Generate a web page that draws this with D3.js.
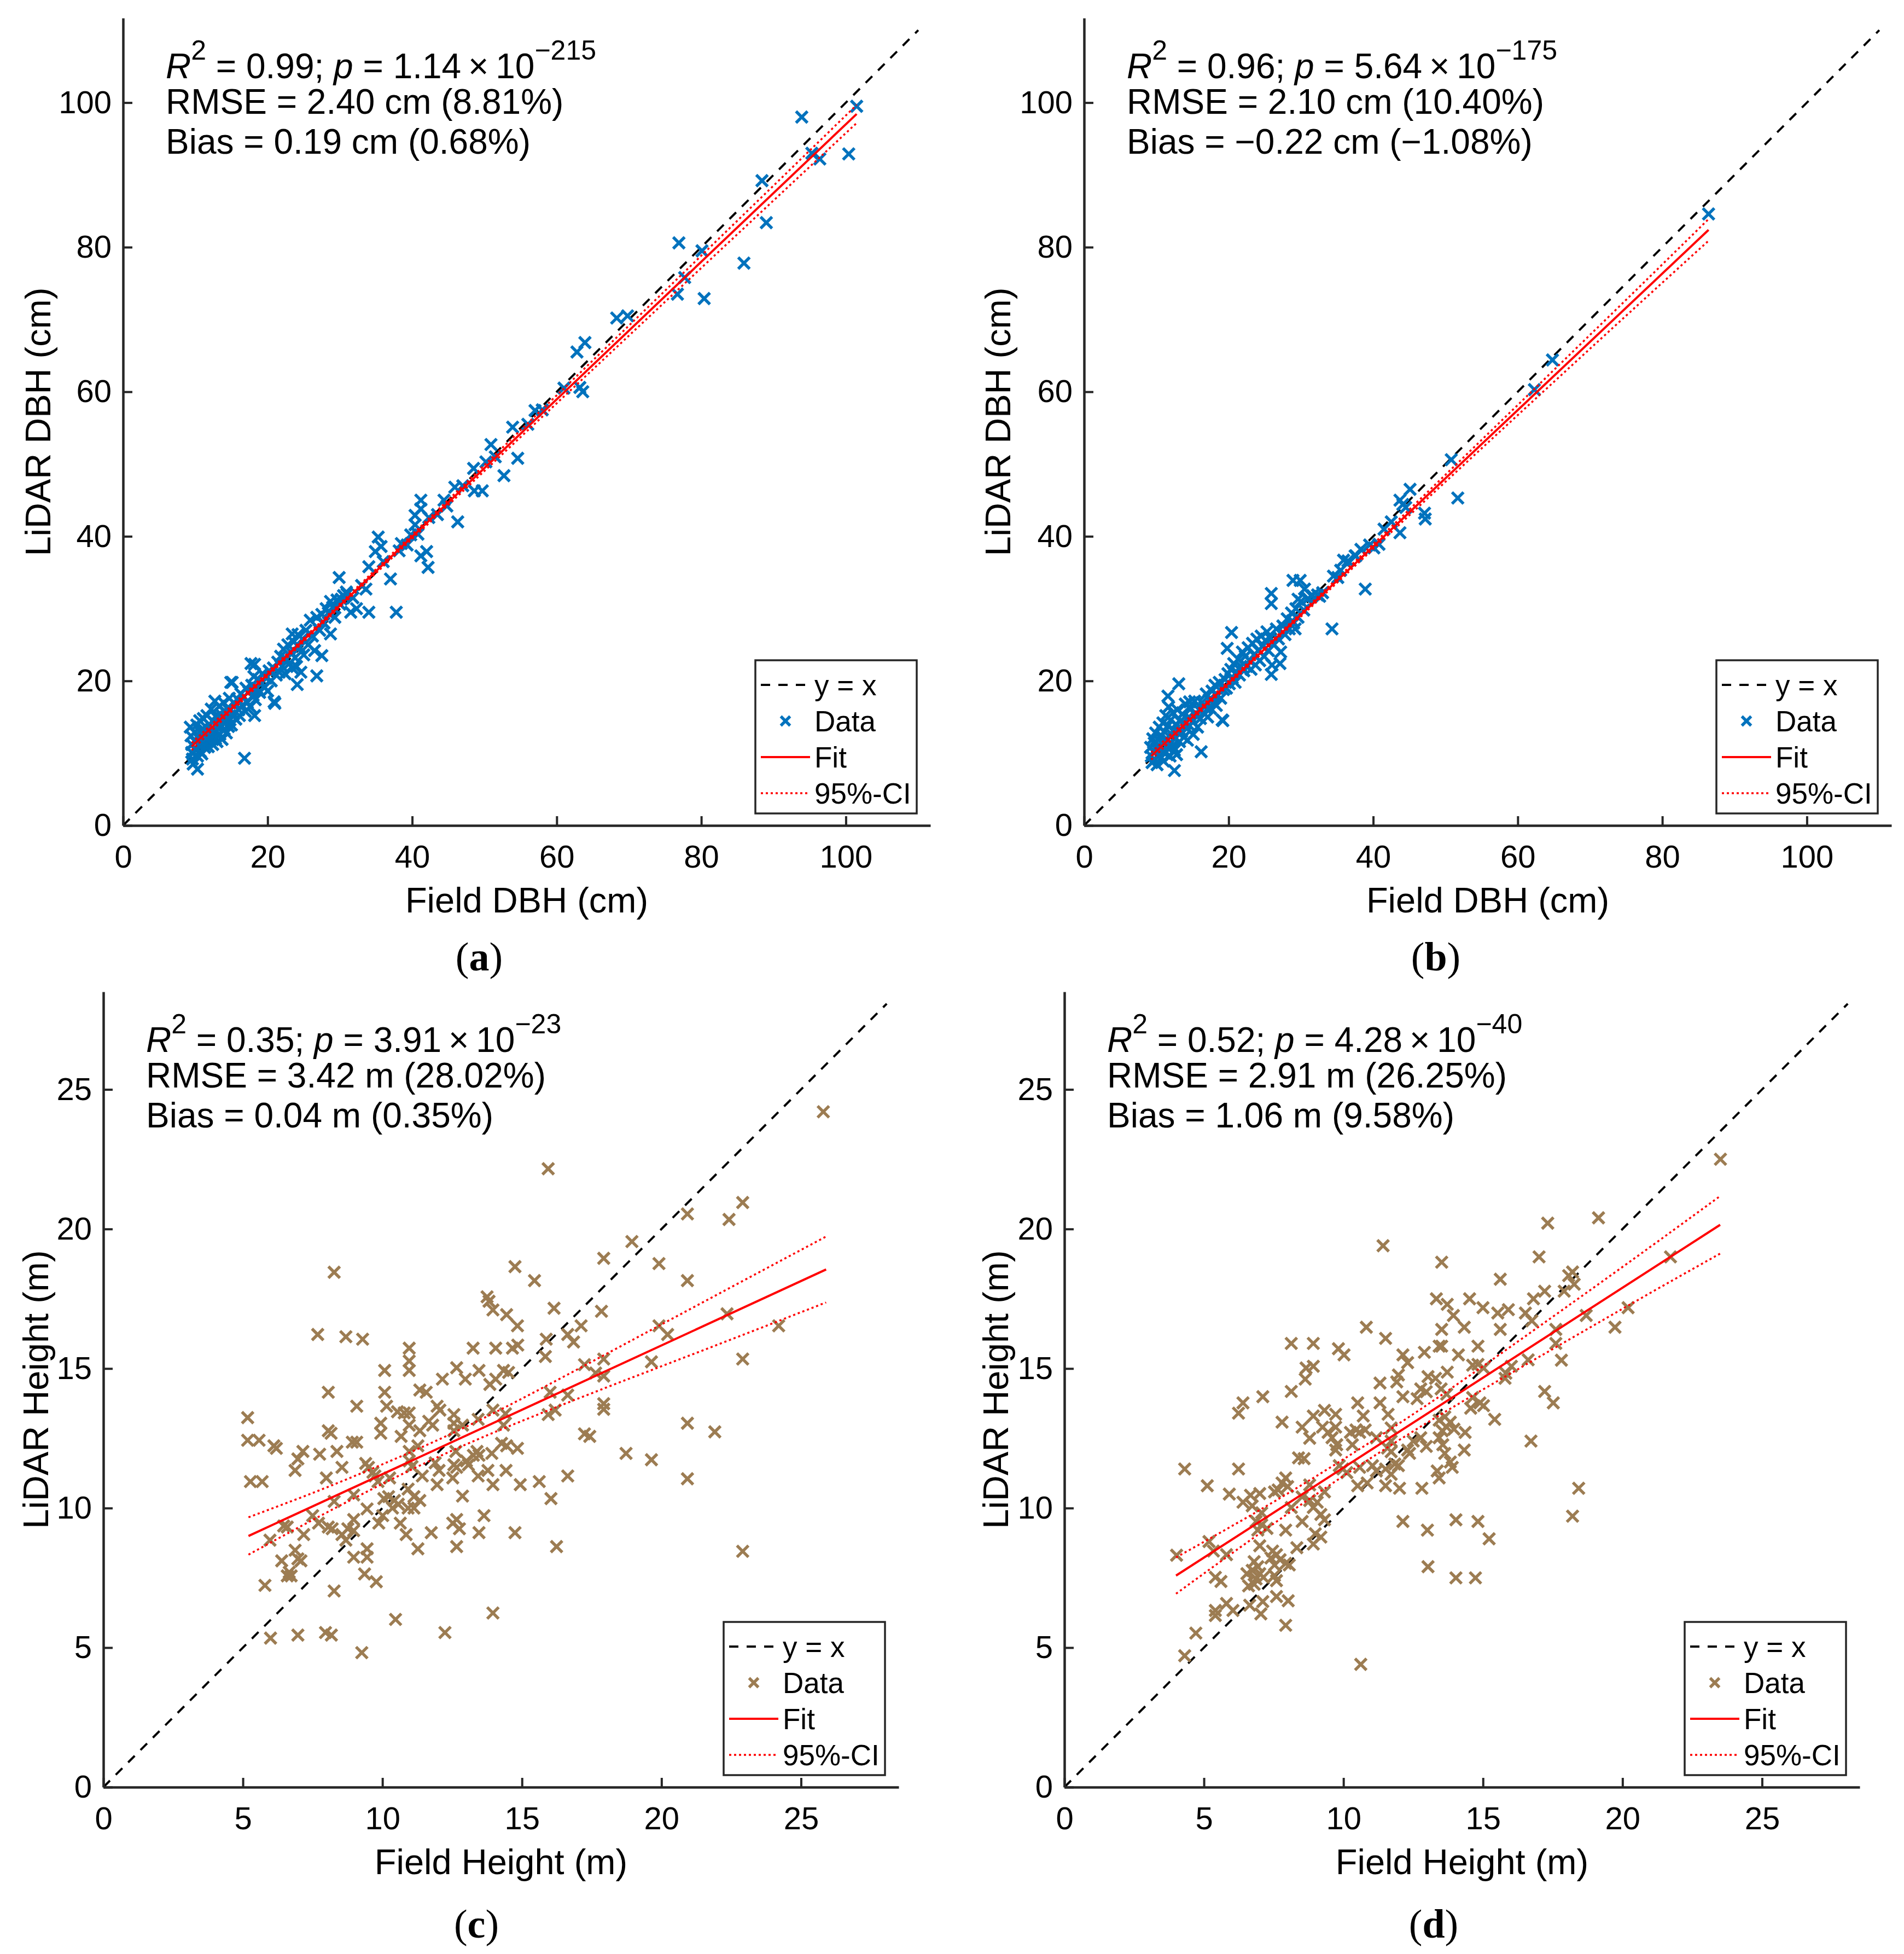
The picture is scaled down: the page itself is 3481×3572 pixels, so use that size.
<!DOCTYPE html>
<html>
<head>
<meta charset="utf-8">
<script src="https://cdn.jsdelivr.net/npm/d3@7"></script>
<style>
  body { margin: 0; background: #fff; }
  text { font-family: "Liberation Sans", Arial, sans-serif; fill: #000; white-space: pre; }
</style>
</head>
<body>
<div class="canvas"></div>
<script>
// tick labels
const dbhTicks = [0, 20, 40, 60, 80, 100];
const heightTicks = [0, 5, 10, 15, 20, 25];

// (a) DBH, plot 1 — [field, lidar]
const dbhA = [
  [101.5,99.5],[93.9,98.0],[95.3,93.0],[96.4,92.2],[100.4,92.9],[88.4,89.2],[89.0,83.4],[76.9,80.6],[80.1,79.5],[85.9,77.8],
  [77.7,75.8],[76.7,73.5],[80.4,72.9],[68.3,70.2],[69.8,70.5],[62.8,65.5],[63.9,66.8],[63.2,60.6],[63.6,60.0],[57.0,57.4],
  [53.9,55.1],[50.9,52.7],[54.6,50.8],[52.7,48.4],[48.5,49.4],[49.7,46.3],[48.6,46.3],[45.9,46.8],[44.4,45.0],[41.2,45.0],
  [41.2,43.8],[42.3,42.6],[46.3,42.0],[40.4,42.9],[40.4,41.6],[40.8,40.3],[39.3,38.8],[38.2,38.0],[42.0,37.9],[42.2,35.7],
  [41.2,37.3],[35.3,39.9],[34.9,37.9],[35.7,38.6],[34.0,35.8],[37.0,34.1],[29.9,34.3],[33.6,32.7],[34.0,29.5],[31.5,29.5],
  [32.3,30.0],[37.8,29.5],[30.9,32.3],[30.2,31.3],[28.7,26.5],[27.5,23.5],[26.8,20.7],[23.4,26.5],[24.3,24.8],[24.1,19.5],
  [20.9,17.1],[18.2,15.2],[17.7,22.4],[14.9,19.8],[16.8,9.3],[10.3,7.8],
  [36.0,36.5],[38.5,39.0],[43.5,43.0],[47.0,47.0],[51.5,51.0],[56.0,55.5],[58.0,57.5],[61.0,60.5],[33.0,33.2],[31.8,31.5],
  [39.8,40.2],[44.8,44.2],[50.2,50.3],
  [9.3,13.6],[9.4,12.4],[9.5,11.2],[9.5,10.1],[9.6,9.2],[9.7,8.5],[9.9,12.9],[10.0,11.6],[10.1,10.4],[10.2,13.9],
  [10.3,9.6],[10.4,12.1],[10.5,11.0],[10.6,14.5],[10.7,10.2],[10.8,12.8],[10.9,11.5],[11.0,13.4],[10.9,9.9],
  [11.1,14.8],[11.2,12.2],[11.3,10.8],[11.4,13.0],[11.5,11.6],[11.6,15.2],[11.7,12.6],[11.8,10.9],[11.9,14.0],[12.0,11.8],
  [12.1,13.2],[12.2,16.1],[12.3,12.4],[12.4,11.2],[12.5,14.4],[12.6,13.0],[12.7,17.2],[12.8,12.0],[12.9,15.0],[13.0,13.6],[13.0,11.6],
  [13.2,14.2],[13.3,16.5],[13.4,12.6],[13.5,15.4],[13.6,13.8],[13.7,11.9],[13.8,14.9],[13.9,17.0],[14.0,13.3],[14.1,15.8],
  [14.2,14.3],[14.3,12.8],[14.4,16.2],[14.5,15.0],[14.6,13.7],[14.7,17.6],[14.8,14.6],[14.9,16.0],[15.0,13.9],[15.1,19.8],
  [15.3,15.4],[15.5,16.8],[15.6,14.7],[15.8,17.5],[16.0,16.0],[16.1,15.2],[16.3,18.2],[16.5,16.6],[16.7,17.8],[16.9,15.8],
  [17.0,19.0],[17.2,17.0],[17.4,18.5],[17.6,16.4],[17.8,19.4],[18.0,18.0],[18.1,20.6],[18.2,22.3],[18.3,17.4],[18.5,19.0],
  [18.7,20.2],[18.9,18.4],[19.1,19.6],[19.3,21.0],[19.5,19.2],[19.8,20.4],[20.0,18.6],[20.2,21.4],[20.5,20.0],[20.8,21.8],
  [21.0,16.9],[21.2,20.8],[21.4,22.6],[21.6,21.2],[21.8,23.4],[22.0,22.0],
  [22.2,24.4],[22.4,21.0],[22.6,23.0],[22.8,25.0],[23.0,22.4],[23.2,24.0],[23.4,21.8],[23.6,25.4],[23.8,23.2],[24.0,22.0],
  [24.2,26.4],[24.4,24.6],[24.6,21.2],[24.8,25.8],[25.0,23.6],[25.3,27.0],[25.6,25.0],[25.9,28.4],[26.2,26.2],[26.5,24.2],[26.8,28.8],
  [27.2,27.0],[27.5,29.2],[27.8,28.0],[28.1,30.0],[28.4,29.4],[28.7,31.0],[29.0,30.2],[29.3,28.8],[29.6,31.2],[30.0,30.6],
  [30.5,31.8],[31.0,32.0]
];

// (b) DBH, plot 2
const dbhB = [
  [86.4,84.6],[64.8,64.4],[62.3,60.3],[50.8,50.6],[51.7,45.3],[45.1,46.5],[43.7,45.0],[44.1,44.4],[47.1,43.2],[47.2,42.4],
  [43.7,40.5],[40.8,38.9],[40.1,38.4],[38.9,32.7],[37.6,37.3],[35.9,36.7],[35.1,34.3],[34.3,27.2],[32.6,31.7],[28.9,33.9],
  [29.9,33.9],[30.5,32.7],[29.6,31.3],[30.9,31.3],[25.9,32.1],[25.9,30.7],[28.8,28.3],[29.2,27.2],[20.4,26.7],[19.8,24.5],
  [25.9,20.9],[27.1,22.4],[13.1,19.6],[11.6,17.9],[14.6,17.1],[19.2,14.5],[16.2,10.2],[12.5,7.6],
  [9.2,10.8],[9.3,9.6],[9.4,8.7],[9.5,12.0],[9.6,10.2],[9.7,11.4],[9.8,9.1],[9.9,12.8],[10.0,10.6],[10.1,8.4],
  [10.2,11.9],[10.3,9.8],[10.4,13.6],[10.5,11.0],[10.6,9.3],[10.7,12.4],[10.8,10.3],[10.9,14.2],[11.0,11.6],[11.0,8.9],
  [11.1,13.0],[11.2,10.0],[11.3,15.2],[11.4,12.0],[11.5,10.8],[11.6,13.8],[11.7,16.4],[11.8,11.4],[11.9,9.6],[12.0,14.6],
  [12.1,12.6],[12.2,11.0],[12.3,15.6],[12.4,13.2],[12.5,10.4],[12.6,12.0],[12.7,14.0],[12.8,9.8],[12.9,16.0],[13.0,12.8],
  [13.2,11.6],[13.3,14.4],[13.5,13.0],[13.6,15.4],[13.8,12.2],[13.9,14.0],[14.0,16.8],[14.2,13.4],[14.3,11.8],[14.5,15.0],
  [14.6,13.8],[14.8,16.2],[15.0,14.4],[15.1,12.6],[15.3,17.2],[15.5,15.2],[15.7,13.6],[15.9,16.0],
  [16.1,14.8],[16.3,17.0],[16.5,15.6],[16.7,16.4],[16.9,18.2],[17.1,15.0],[17.3,17.4],[17.5,16.2],[17.7,18.6],[17.9,17.0],
  [18.1,19.4],[18.3,16.6],[18.5,18.0],[18.7,19.8],[18.9,17.6],[19.1,14.6],[19.3,18.8],[19.5,20.2],[19.7,19.0],[19.9,21.0],
  [20.1,19.6],[20.3,21.6],[20.5,20.4],[20.7,22.4],[20.9,19.8],[21.1,21.2],[21.3,23.0],[21.5,20.8],[21.7,22.0],[21.9,24.0],
  [22.1,21.4],[22.3,23.4],[22.5,22.0],[22.7,24.6],[22.9,22.8],[23.1,21.6],[23.3,25.2],[23.5,23.6],[23.7,22.2],[23.9,25.8],
  [24.1,24.2],[24.3,22.8],[24.5,26.2],[24.7,24.8],
  [24.9,23.4],[25.1,25.6],[25.3,26.8],[25.5,24.2],[25.7,26.0],[26.0,22.2],[26.3,25.0],[26.6,27.2],[26.9,25.8],[27.2,24.0],
  [27.5,27.6],[27.8,26.4],[28.1,28.6],[28.4,27.2],[28.7,29.4],[29.0,28.0],[29.3,30.0],[29.6,28.8],[30.0,31.0],[30.4,29.8],
  [31.0,31.4],[31.6,31.8],[32.3,31.9],[33.0,32.2],[34.5,34.5],[35.5,35.3],[36.5,36.6],[37.5,37.3],[38.3,38.2],[39.5,38.8],
  [41.5,41.0],[42.5,42.0],[44.5,44.0]
];

// (c) tree height, plot 1
const heightC = [
  [25.8,24.2],[15.94,22.16],[22.91,20.95],[22.42,20.34],[20.93,20.54],[18.94,19.55],[17.93,18.95],[19.91,18.76],[14.75,18.65],[15.45,18.15],
  [20.93,18.15],[8.27,18.45],[13.75,17.57],[13.82,17.41],[13.96,17.1],[14.45,16.93],[14.84,16.53],[16.15,17.16],[17.85,17.05],[17.12,16.53],
  [7.68,16.22],[8.69,16.14],[9.29,16.05],[10.96,15.73],[13.25,15.73],[14.06,15.73],[14.66,15.73],[14.85,15.84],[15.87,16.05],[16.64,16.22],
  [16.85,15.95],[15.84,15.43],[19.91,16.53],[20.22,16.22],[22.35,16.96],[24.2,16.53],[22.91,15.34],[19.64,15.24],[17.93,15.34],[17.24,15.14],
  [17.64,14.84],[17.93,14.73],[10.96,15.27],[10.96,14.93],[10.08,14.93],[12.66,15.03],[13.46,14.93],[12.97,14.62],[12.15,14.62],[14.06,14.62],
  [14.34,14.93],[14.52,14.86],[13.85,14.43],[8.06,14.15],[10.08,14.15],[11.34,14.23],[11.57,14.15],[16.01,14.15],[16.64,14.05],[9.08,13.65],
  [10.15,13.65],[11.96,13.65],[12.06,13.51],[10.54,13.45],[10.78,13.41],[10.96,13.41],[13.96,13.51],[17.93,13.74],[17.93,13.54],[16.19,13.51],
  [15.94,13.35],[5.17,13.24],[9.94,13.04],[9.94,12.68],[10.96,12.97],[11.66,13.11],[11.8,12.97],[12.56,13.35],[12.56,13.04],[12.56,12.77],
  [11.34,12.77],[8.06,12.77],[8.16,12.68],[12.87,12.97],[13.43,13.18],[14.41,13.38],[14.34,12.97],[10.67,12.57],[5.17,12.43],[5.58,12.43],
  [6.11,12.23],[6.2,12.14],[8.92,12.36],[9.08,12.36],[20.93,13.04],[21.91,12.73],[17.24,12.66],[17.43,12.57],[14.27,12.32],[14.45,12.23],
  [14.84,12.14],[13.39,12.03],[13.26,11.89],[13.46,11.89],[13.92,11.96],[12.63,12.03],[10.96,12.03],[11.27,12.23],[7.15,12.03],[7.75,11.93],
  [8.37,12.03],[6.97,11.76],[6.87,11.35],[8.55,11.46],[18.73,11.96],[19.64,11.73],[9.4,11.6],[9.5,11.46],[9.66,11.28],[9.73,11.15],
  [9.84,10.95],[10.96,11.69],[11.06,11.49],[11.89,11.62],[12.03,11.35],[12.56,11.55],[12.66,11.46],[13.01,11.69],[13.08,11.55],[13.78,11.35],
  [14.43,11.35],[13.43,11.15],[12.52,11.08],[11.43,11.15],[10.26,11.08],[7.99,11.08],[5.27,10.95],[5.69,10.95],[11.96,10.84],[13.96,10.84],
  [14.94,10.84],[15.62,10.95],[16.64,11.15],[20.93,11.05],[8.97,10.47],[8.27,10.24],[10.05,10.34],[10.22,10.41],[10.43,10.27],[10.57,10.14],
  [10.36,10.0],[10.92,10.68],[11.13,10.41],[11.34,10.27],[10.92,10.0],[11.13,10.0],[12.87,10.43],[9.45,9.97],[10.01,9.73],[9.87,9.46],
  [16.04,10.34],[7.5,9.73],[7.71,9.46],[6.46,9.36],[6.59,9.32],[8.06,9.32],[8.2,9.26],[8.97,9.59],[8.76,9.26],[8.97,9.19],
  [8.55,9.05],[8.69,8.85],[12.66,9.59],[12.52,9.46],[12.76,9.26],[13.64,9.73],[10.64,9.46],[10.85,9.05],[11.75,9.12],[13.46,9.12],
  [14.75,9.12],[7.18,9.05],[5.97,8.85],[12.66,8.62],[16.24,8.62],[11.27,8.54],[9.45,8.54],[9.45,8.24],[6.87,8.49],[6.97,8.18],
  [7.08,8.11],[6.39,8.11],[8.97,8.24],[22.91,8.45],[6.66,7.7],[6.59,7.57],[6.73,7.57],[9.36,7.64],[9.78,7.36],[5.79,7.23],
  [8.27,7.03],[10.47,6.01],[13.96,6.24],[12.24,5.54],[5.99,5.34],[6.97,5.45],[7.96,5.54],[8.17,5.45],[9.26,4.82]
];

// (d) tree height, plot 2
const heightD = [
  [23.51,22.5],[17.32,20.21],[19.14,20.4],[11.42,19.4],[13.52,18.81],[17.01,19.0],[21.72,19.0],[18.21,18.46],[18.07,18.33],[18.27,18.02],
  [17.91,17.77],[15.62,18.2],[17.21,17.77],[16.81,17.5],[13.33,17.5],[13.72,17.3],[14.52,17.5],[15.0,17.18],[15.53,16.99],[15.91,17.11],
  [16.52,16.99],[16.75,16.71],[13.94,16.9],[18.7,16.9],[20.2,17.18],[19.73,16.48],[10.82,16.48],[14.33,16.48],[13.52,16.4],[15.62,16.4],
  [17.61,16.4],[11.51,16.08],[8.13,15.9],[8.92,15.9],[9.82,15.71],[10.02,15.49],[13.43,15.8],[13.52,15.8],[14.82,15.8],[12.9,15.58],
  [12.13,15.49],[12.3,15.21],[14.12,15.49],[17.61,15.9],[17.81,15.3],[16.62,15.31],[14.63,15.12],[14.82,15.15],[15.02,15.02],[16.02,15.08],
  [8.66,15.02],[8.92,15.08],[8.63,14.62],[11.97,14.77],[11.91,14.52],[11.31,14.48],[13.03,14.71],[13.3,14.65],[13.72,14.87],[15.79,14.65],
  [15.82,14.83],[12.77,14.27],[12.97,14.17],[12.64,13.92],[8.13,14.18],[7.11,13.99],[6.4,13.77],[6.24,13.4],[12.13,13.99],[10.51,13.77],
  [11.31,13.77],[13.5,14.27],[13.7,14.08],[17.21,14.18],[17.52,13.77],[14.63,13.96],[14.89,13.77],[14.56,13.58],[15.02,13.67],[9.32,13.5],
  [9.72,13.36],[8.92,13.3],[10.71,13.3],[11.6,13.36],[7.8,13.08],[8.52,12.9],[9.25,12.9],[9.72,12.9],[9.45,12.71],[10.25,12.71],
  [10.45,12.8],[10.58,12.71],[10.78,12.8],[11.71,12.87],[13.43,13.15],[13.63,13.27],[13.83,13.08],[13.7,12.9],[13.54,12.77],[13.96,12.83],
  [14.36,12.71],[15.42,13.18],[8.79,12.5],[9.59,12.52],[9.76,12.27],[9.72,12.08],[10.32,12.27],[11.18,12.52],[11.71,12.4],[12.5,12.4],
  [12.97,12.21],[12.77,12.52],[13.43,12.52],[13.56,12.27],[11.58,12.15],[11.71,12.02],[12.3,12.08],[12.37,11.96],[13.63,11.96],[13.83,11.65],
  [13.9,11.46],[14.33,12.08],[16.72,12.4],[8.39,11.8],[8.59,11.77],[9.85,11.52],[9.98,11.4],[10.12,11.27],[10.58,11.46],[11.04,11.52],
  [11.18,11.33],[11.51,11.4],[11.71,11.21],[11.97,11.52],[11.84,11.58],[13.36,11.33],[13.43,11.08],[4.31,11.4],[6.24,11.4],[7.93,11.08],
  [7.8,10.9],[8.0,10.77],[7.66,10.65],[7.53,10.58],[5.12,10.8],[5.91,10.5],[6.4,10.21],[6.67,10.46],[7.0,10.52],[6.73,10.08],
  [8.79,10.83],[10.51,10.8],[10.85,10.9],[11.51,10.8],[12.01,10.71],[12.81,10.71],[18.43,10.71],[8.52,10.4],[8.79,10.27],[9.06,10.21],
  [8.92,10.02],[9.32,10.58],[8.13,10.02],[7.07,9.83],[9.19,9.77],[9.32,9.58],[6.87,9.52],[7.07,9.4],[7.26,9.27],[6.93,9.21],
  [8.52,9.52],[7.93,9.21],[8.99,9.08],[9.19,8.96],[8.92,8.71],[12.13,9.52],[14.03,9.58],[14.82,9.52],[13.01,9.21],[15.22,8.9],
  [18.21,9.71],[5.18,8.8],[5.34,8.46],[5.81,8.33],[4.02,8.31],[7.0,8.65],[8.33,8.58],[7.46,8.46],[7.6,8.33],[7.4,8.21],
  [7.73,8.15],[7.53,7.96],[7.93,8.02],[8.06,7.96],[6.8,8.08],[6.93,7.9],[6.73,7.77],[7.0,7.65],[6.54,7.65],[6.87,7.46],
  [7.13,7.52],[5.41,7.52],[5.61,7.37],[7.53,7.58],[7.6,7.4],[6.6,7.21],[6.8,7.27],[13.03,7.9],[14.03,7.5],[14.73,7.5],
  [7.6,6.83],[5.81,6.58],[5.41,6.33],[5.41,6.15],[6.04,6.33],[6.64,6.52],[7.11,6.65],[7.04,6.21],[8.02,6.68],[7.93,5.8],
  [4.71,5.52],[4.31,4.71],[10.62,4.4]
];

// fitted lines (end points) and 95% confidence bands
const fitAX = [9.5, 101.5], fitAY = [10.93, 98.43];
const ciAX = [9.5, 20, 30, 45, 60, 80, 101.5];
const ciAUpper = [11.43, 21.22, 30.68, 45.05, 59.51, 78.83, 99.68];
const ciALower = [10.43, 20.62, 30.18, 44.35, 58.41, 77.13, 97.18];

const fitBX = [9.3, 86.4], fitBY = [9.61, 82.39];
const ciBX = [9.3, 20, 30, 45, 60, 75, 86.4];
const ciBUpper = [10.11, 20.01, 29.4, 43.71, 58.17, 72.73, 83.89];
const ciBLower = [9.11, 19.41, 28.9, 42.91, 56.77, 70.53, 80.89];

const fitCX = [5.2, 25.9], fitCY = [9.0, 18.55];
const ciCX = [5.2, 8, 11, 14, 18, 22, 25.9];
const ciCUpper = [9.67, 10.74, 12.0, 13.41, 15.51, 17.65, 19.73];
const ciCLower = [8.33, 9.84, 11.36, 12.71, 14.31, 15.85, 17.37];

const fitDX = [4.0, 23.5], fitDY = [7.58, 20.15];
const ciDX = [4, 7, 10, 13, 16, 20, 23.5];
const ciDUpper = [8.23, 9.93, 11.75, 13.7, 15.79, 18.64, 21.18];
const ciDLower = [6.93, 9.09, 11.15, 13.06, 14.83, 17.14, 19.12];

// statistics text: [R2, p mantissa, p exponent, RMSE line, Bias line]
const statsA = ["0.99", "1.14", "\u2212215", "RMSE = 2.40 cm (8.81%)", "Bias = 0.19 cm (0.68%)"];
const statsB = ["0.96", "5.64", "\u2212175", "RMSE = 2.10 cm (10.40%)", "Bias = \u22120.22 cm (\u22121.08%)"];
const statsC = ["0.35", "3.91", "\u221223", "RMSE = 3.42 m (28.02%)", "Bias = 0.04 m (0.35%)"];
const statsD = ["0.52", "4.28", "\u221240", "RMSE = 2.91 m (26.25%)", "Bias = 1.06 m (9.58%)"];

const legendLabels = ["y = x", "Data", "Fit", "95%-CI"];

const axisColor = "#262626";
const blue = "#0072BD";
const brown = "#9C7C52";

const svg = d3
  .select(".canvas")
  .append("svg")
  .attr("width", 3481)
  .attr("height", 3572);

svg.append("rect").attr("width", 3481).attr("height", 3572).attr("fill", "#fff");

const panels = [
  { tag: "a", left: 225, top: 33, size: 1476, max: 111.7, ticks: dbhTicks, minorStep: 5, data: dbhA, color: blue,
    fitX: fitAX, fitY: fitAY, ciX: ciAX, ciUp: ciAUpper, ciLo: ciALower, stats: statsA,
    xLabel: "Field DBH (cm)", yLabel: "LiDAR DBH (cm)", yLabelX: 92, tagX: 876, tagY: 1774 },
  { tag: "b", left: 1982, top: 33, size: 1476, max: 111.7, ticks: dbhTicks, minorStep: 5, data: dbhB, color: blue,
    fitX: fitBX, fitY: fitBY, ciX: ciBX, ciUp: ciBUpper, ciLo: ciBLower, stats: statsB,
    xLabel: "Field DBH (cm)", yLabel: "LiDAR DBH (cm)", yLabelX: 1847, tagX: 2625, tagY: 1774 },
  { tag: "c", left: 189, top: 1813, size: 1454, max: 28.5, ticks: heightTicks, minorStep: 1, data: heightC, color: brown,
    fitX: fitCX, fitY: fitCY, ciX: ciCX, ciUp: ciCUpper, ciLo: ciCLower, stats: statsC,
    xLabel: "Field Height (m)", yLabel: "LiDAR Height (m)", yLabelX: 88, tagX: 871, tagY: 3542 },
  { tag: "d", left: 1946, top: 1813, size: 1454, max: 28.5, ticks: heightTicks, minorStep: 1, data: heightD, color: brown,
    fitX: fitDX, fitY: fitDY, ciX: ciDX, ciUp: ciDUpper, ciLo: ciDLower, stats: statsD,
    xLabel: "Field Height (m)", yLabel: "LiDAR Height (m)", yLabelX: 1843, tagX: 2621, tagY: 3542 }
];

//x marker path
const cross = h => `M${-h},${-h}L${h},${h}M${-h},${h}L${h},${-h}`;

const drawPanel = p => {
  const graph = svg.append("g").attr("transform", `translate(${p.left}, ${p.top})`);

  //scales
  const x = d3.scaleLinear().domain([0, p.max]).range([0, p.size]);
  const y = d3.scaleLinear().domain([0, p.max]).range([p.size, 0]);

  const minor = d3.range(0, p.max, p.minorStep).filter(v => !p.ticks.includes(v));

  //y = x reference line
  graph
    .append("line")
    .attr("x1", x(0))
    .attr("y1", y(0))
    .attr("x2", x(p.max * 0.985))
    .attr("y2", y(p.max * 0.985))
    .attr("stroke", "#000")
    .attr("stroke-width", 4)
    .attr("stroke-dasharray", "17,15");

  //data points
  graph
    .append("g")
    .selectAll("path")
    .data(p.data)
    .join("path")
    .attr("transform", d => `translate(${x(d[0])}, ${y(d[1])})`)
    .attr("d", cross(10.5))
    .attr("fill", "none")
    .attr("stroke", p.color)
    .attr("stroke-width", 5.5);

  //fit line
  const line = d3
    .line()
    .x(d => x(d[0]))
    .y(d => y(d[1]));

  graph
    .append("path")
    .datum(d3.zip(p.fitX, p.fitY))
    .attr("d", line)
    .attr("fill", "none")
    .attr("stroke", "#ff0000")
    .attr("stroke-width", 4);

  //confidence band
  const curve = line.curve(d3.curveNatural);
  [p.ciUp, p.ciLo].forEach(band => {
    graph
      .append("path")
      .datum(d3.zip(p.ciX, band))
      .attr("d", curve)
      .attr("fill", "none")
      .attr("stroke", "#ff0000")
      .attr("stroke-width", 3.5)
      .attr("stroke-dasharray", "4,5");
  });

  //axes
  const xAxisGroup = graph.append("g").attr("transform", `translate(0, ${p.size})`);
  xAxisGroup.call(d3.axisBottom(x).tickValues(minor).tickSize(-9).tickFormat(""));
  xAxisGroup.call(
    d3.axisBottom(x).tickValues(p.ticks).tickSizeInner(-17).tickSizeOuter(0).tickPadding(36)
  );

  const yAxisGroup = graph.append("g");
  yAxisGroup.call(d3.axisLeft(y).tickValues(minor).tickSize(-9).tickFormat(""));
  yAxisGroup.call(
    d3.axisLeft(y).tickValues(p.ticks).tickSizeInner(-17).tickSizeOuter(0).tickPadding(21)
  );

  [xAxisGroup, yAxisGroup].forEach(g => {
    g.attr("font-family", null).attr("font-size", null);
    g.selectAll(".domain").attr("stroke", axisColor).attr("stroke-width", 4.5);
    g.selectAll(".tick line").attr("stroke", axisColor).attr("stroke-width", 4);
    g.selectAll(".tick text").attr("fill", "#000").style("font-size", "58px");
  });

  //axis titles
  graph
    .append("text")
    .attr("x", p.size / 2)
    .attr("y", p.size + 159)
    .attr("text-anchor", "middle")
    .style("font-size", "65px")
    .text(p.xLabel);

  svg
    .append("text")
    .attr("transform", `translate(${p.yLabelX}, ${p.top + p.size / 2}) rotate(-90)`)
    .attr("text-anchor", "middle")
    .style("font-size", "65px")
    .text(p.yLabel);

  //statistics block
  const first = graph.append("text").attr("x", 78).attr("y", 110).style("font-size", "64px");
  first.append("tspan").style("font-style", "italic").text("R");
  first.append("tspan").attr("dy", -34).style("font-size", "50px").text("2");
  first.append("tspan").attr("dy", 34).text(` = ${p.stats[0]}; `);
  first.append("tspan").style("font-style", "italic").text("p");
  first.append("tspan").text(` = ${p.stats[1]}\u2009\u00d7\u200910`);
  first.append("tspan").attr("dy", -34).style("font-size", "50px").text(p.stats[2]);

  graph.append("text").attr("x", 78).attr("y", 175).style("font-size", "64px").text(p.stats[3]);
  graph.append("text").attr("x", 78).attr("y", 248).style("font-size", "64px").text(p.stats[4]);

  //legend
  const lw = 295, lh = 280;
  const legend = graph
    .append("g")
    .attr("transform", `translate(${p.size - 25 - lw}, ${p.size - 22 - lh})`);

  legend
    .append("rect")
    .attr("width", lw)
    .attr("height", lh)
    .attr("fill", "#fff")
    .attr("stroke", axisColor)
    .attr("stroke-width", 3.5);

  const rows = [45, 111, 177, 243];
  legendLabels.forEach((label, i) => {
    const cy = rows[i];
    if (i === 1) {
      legend
        .append("path")
        .attr("transform", `translate(55, ${cy})`)
        .attr("d", cross(8.5))
        .attr("fill", "none")
        .attr("stroke", p.color)
        .attr("stroke-width", 5.5);
    } else {
      legend
        .append("line")
        .attr("x1", 10)
        .attr("x2", 100)
        .attr("y1", cy)
        .attr("y2", cy)
        .attr("stroke", i === 0 ? "#000" : "#ff0000")
        .attr("stroke-width", i === 3 ? 3.5 : 4)
        .attr("stroke-dasharray", i === 0 ? "17,15" : i === 3 ? "4,5" : null);
    }
    legend
      .append("text")
      .attr("x", 108)
      .attr("y", cy + 19)
      .style("font-size", "53px")
      .text(label);
  });

  //panel tag
  const tag = svg
    .append("text")
    .attr("x", p.tagX)
    .attr("y", p.tagY)
    .attr("text-anchor", "middle")
    .style("font-family", '"Liberation Serif", "Times New Roman", serif')
    .style("font-size", "74px");
  tag.append("tspan").text("(");
  tag.append("tspan").style("font-weight", "bold").text(p.tag);
  tag.append("tspan").text(")");
};

panels.forEach(drawPanel);
</script>
</body>
</html>
